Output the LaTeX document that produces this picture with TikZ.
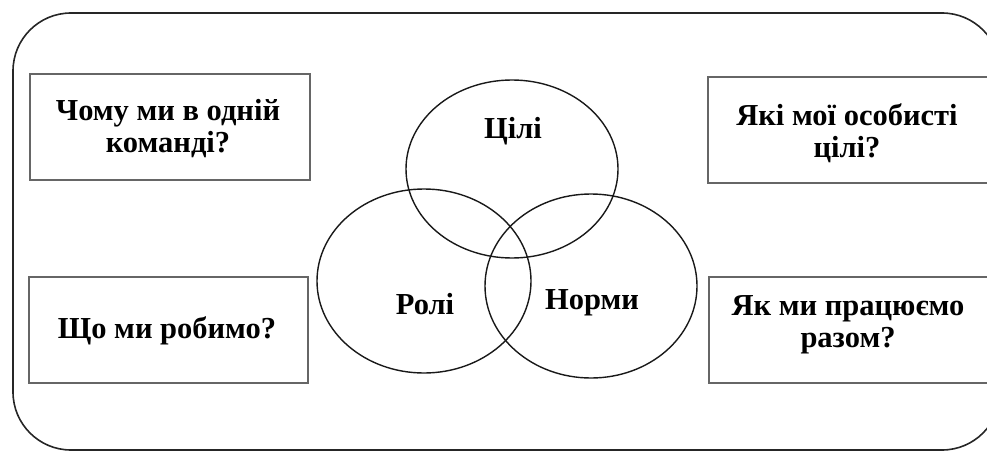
\documentclass[tikz,border=0pt]{standalone}
\usepackage{fontspec}
\setmainfont{Liberation Serif}
\begin{document}
\begin{tikzpicture}[x=1pt,y=-1pt,
  qbox/.style={draw=black!60,line width=1.3pt,inner sep=0pt},
  qtext/.style={font=\bfseries\fontsize{30.5}{32}\selectfont,align=center,text=black},
  venn/.style={draw=black!90,line width=1.4pt}]
\useasboundingbox (0,0) rectangle (987,452);
\draw[line width=1.6pt,draw=black!85,rounded corners=58pt] (13,13) rectangle (1000,450);
% boxes
\draw[qbox] (30,74) rectangle (310,180);
\draw[qbox] (708,77) rectangle (990,183);
\draw[qbox] (29,277) rectangle (308,383);
\draw[qbox] (709,277) rectangle (990,383);
\node[qtext] (q1) at (168,129) {Чому ми в одній\\команді?};
\node[qtext] (q2) at (847,133) {Які мої особисті\\цілі?};
\node[qtext] (q3) at (167,331) {Що ми робимо?};
\node[qtext] (q4) at (848,325) {Як ми працюємо\\разом?};
% venn
\draw[venn] (512,169) ellipse [x radius=106, y radius=89];
\draw[venn] (424,281) ellipse [x radius=107, y radius=92];
\draw[venn] (591,286) ellipse [x radius=106, y radius=92];
\node[qtext] (goals) at (513,131) {Цілі};
\node[qtext] (roles) at (425,304) {Ролі};
\node[qtext] (norms) at (592,303) {Норми};
\end{tikzpicture}
\end{document}
